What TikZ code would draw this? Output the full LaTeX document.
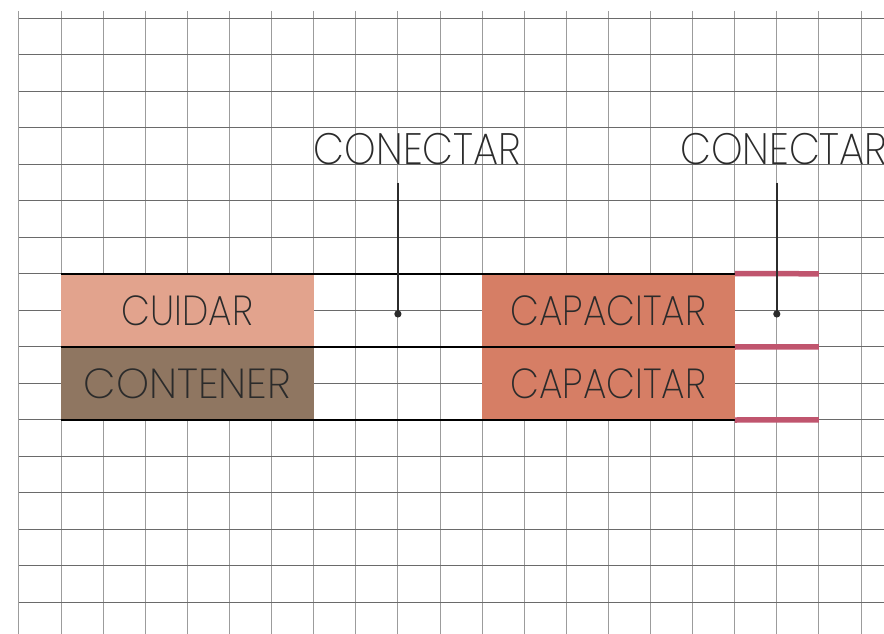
\documentclass[tikz,border=0pt]{standalone}
\usepackage{fontspec}
\setmainfont{Poppins ExtraLight}
\usetikzlibrary{positioning}
\definecolor{GridLight}{HTML}{9C9C9C}
\definecolor{GridDark}{HTML}{6A6A6A}
\definecolor{InkDark}{HTML}{2B2B2B}
\definecolor{CuidarFill}{HTML}{E2A38D}
\definecolor{ContenerFill}{HTML}{8F7661}
\definecolor{CapacitarFill}{HTML}{D67E65}
\definecolor{CapPink}{HTML}{C0556E}
\newcommand{\narrowtext}[2][0.89]{\scalebox{#1}[1]{#2}}

\begin{document}
\begin{tikzpicture}[x=42.1pt,y=-36.5pt,font=\fontsize{42}{50}\selectfont,
  block/.style={inner sep=0pt,text=InkDark,minimum width=252.6pt,minimum height=73pt},
  tag/.style={inner sep=0pt,text=InkDark,anchor=base west,font=\fontsize{44}{52}\selectfont},
  blackrule/.style={draw=black,line width=2pt},
  pinkbar/.style={draw=CapPink,line width=5.5pt},
  conn/.style={draw=InkDark,line width=1.8pt}]
  \useasboundingbox (-0.451,-0.501) rectangle (20.546,16.868);
  % grid
  \foreach \i in {0,...,20}
    \draw[GridLight,line width=1pt] (\i,-0.2) -- (\i,16.868);
  \foreach \j in {0,...,16}
    \draw[GridDark,line width=0.9pt] (0,\j) -- (20.546,\j);
  % blocks
  \node[block,fill=CuidarFill] (cuidar) at (4,8) {\narrowtext{CUIDAR}};
  \node[block,fill=ContenerFill] (contener) at (4,10) {\narrowtext[1]{CONTENER}};
  \node[block,fill=CapacitarFill] (capA) at (14,8) {\narrowtext{CAPACITAR}};
  \node[block,fill=CapacitarFill] (capB) at (14,10) {\narrowtext{CAPACITAR}};
  \draw[blackrule] (cuidar.north west) -- (capA.north east);
  \draw[blackrule] (cuidar.south west) -- (capA.south east);
  \draw[blackrule] (contener.south west) -- (capB.south east);
  \coordinate (pinkA) at (19,7);
  \coordinate (pinkB) at (19,9);
  \coordinate (pinkC) at (19,11);
  \draw[pinkbar] (capA.north east) -- (pinkA);
  \draw[pinkbar] (capA.south east) -- (pinkB);
  \draw[pinkbar] (capB.south east) -- (pinkC);
  % connectors
  \node[tag] (conA) at (7,4) {\narrowtext[0.91]{CONECTAR}};
  \node[tag] (conB) at (15.7,4) {\narrowtext[0.91]{CONECTAR}};
  \coordinate (topA) at (9,4.5);
  \coordinate (dotA) at (9,8.1);
  \coordinate (topB) at (18,4.5);
  \coordinate (dotB) at (18,8.1);
  \draw[conn] (topA) -- (dotA);
  \draw[conn] (topB) -- (dotB);
  \fill[InkDark] (dotA) circle (3.6pt);
  \fill[InkDark] (dotB) circle (3.6pt);
\end{tikzpicture}
\end{document}
